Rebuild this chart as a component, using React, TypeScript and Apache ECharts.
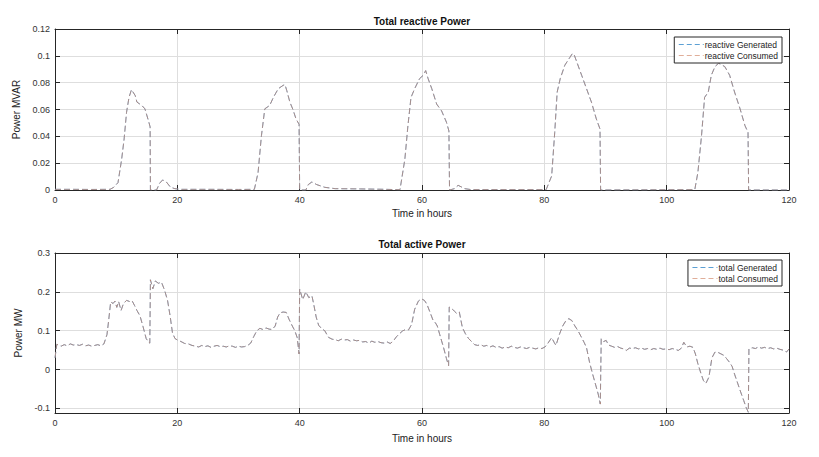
import React, { useEffect, useRef } from "react";
import * as echarts from "echarts";

// ---------- data (hours, value) ----------
const xTicks = [0, 20, 40, 60, 80, 100, 120];

const reactiveGenerated: [number, number][] = [
  [0, 0.0005], [3, 0.0005], [6, 0.0004], [9, 0.0005], [9.6, 0.002], [10.3, 0.0055],
  [10.9, 0.023], [11.3, 0.038], [11.7, 0.058], [12.1, 0.069], [12.5, 0.0748], [13.1, 0.0705],
  [13.4, 0.0655], [14.2, 0.063], [14.7, 0.0605], [15.35, 0.0505], [15.55, 0.047], [15.6, 0],
  [16.6, 0], [17.1, 0.005], [17.6, 0.0075], [18.2, 0.006], [18.9, 0.002], [19.6, 0.001],
  [20.5, 0.0005], [25, 0.0005], [30, 0.0004], [32.6, 0.0005], [33.2, 0.013], [33.75, 0.0405],
  [34.3, 0.0605], [35.1, 0.063], [35.7, 0.069], [36.5, 0.0755], [37.3, 0.078], [37.6, 0.0785],
  [37.9, 0.074], [38.4, 0.0655], [38.9, 0.06], [39.4, 0.053], [39.9, 0.049], [40.0, 0],
  [41.0, 0], [41.4, 0.004], [42.0, 0.006], [42.8, 0.004], [44.1, 0.002], [45.8, 0.001],
  [50, 0.0008], [54, 0.0005], [56.4, 0.0002], [57.2, 0.023], [57.7, 0.048], [58.2, 0.069],
  [58.8, 0.0755], [59.6, 0.083], [60.2, 0.0855], [60.6, 0.089], [61.0, 0.083], [61.6, 0.0755],
  [62.4, 0.064], [63.2, 0.059], [64.0, 0.0505], [64.4, 0.044], [64.5, 0], [65.3, 0.001],
  [65.9, 0.0035], [67.0, 0.001], [68, 0.0003], [80.3, 0.0003], [81.2, 0.0105], [81.7, 0.043],
  [82.1, 0.073], [82.6, 0.083], [83.35, 0.093], [84.2, 0.099], [84.6, 0.1018], [84.9, 0.1005],
  [85.3, 0.0955], [86.1, 0.0855], [86.9, 0.0755], [87.7, 0.0655], [88.5, 0.053], [89.1, 0.0455],
  [89.2, 0], [104.6, 0.0003], [105.1, 0.013], [105.7, 0.0405], [106.2, 0.069], [106.8, 0.073],
  [107.3, 0.0855], [107.9, 0.092], [108.5, 0.0945], [109.5, 0.092], [110.3, 0.0855], [111.1, 0.073],
  [112.0, 0.0605], [112.8, 0.048], [113.3, 0.043], [113.4, 0], [120, 0],
];
// the consumed curve lies exactly on the generated one in the picture
const reactiveConsumed: [number, number][] = reactiveGenerated;

const activeGenerated: [number, number][] = [
  [0, 0.03], [0.3, 0.065], [1, 0.06], [1.5, 0.064], [2, 0.061], [2.5, 0.066], [3, 0.063],
  [3.5, 0.064], [4, 0.062], [4.5, 0.065], [5, 0.061], [5.5, 0.063], [6, 0.06], [6.5, 0.062],
  [7, 0.064], [7.5, 0.061], [8, 0.066], [8.5, 0.09], [8.8, 0.13], [9.1, 0.174], [9.5, 0.17],
  [9.8, 0.176], [10.1, 0.16], [10.4, 0.175], [10.8, 0.152], [11.2, 0.17], [11.7, 0.178],
  [12.2, 0.175], [12.6, 0.177], [13.0, 0.165], [13.4, 0.152], [13.9, 0.138], [14.4, 0.11],
  [14.9, 0.08], [15.3, 0.07], [15.5, 0.068], [15.6, 0.231], [16.0, 0.208], [16.4, 0.228],
  [16.9, 0.222], [17.4, 0.225], [17.9, 0.205], [18.4, 0.178], [18.8, 0.14], [19.2, 0.095],
  [19.6, 0.08], [20.1, 0.075], [20.6, 0.072], [21.2, 0.067], [21.8, 0.066], [22.4, 0.062],
  [23.0, 0.06], [23.5, 0.058], [24.0, 0.062], [24.5, 0.059], [25.0, 0.061], [25.5, 0.057],
  [26.0, 0.06], [26.5, 0.062], [27.0, 0.059], [27.5, 0.06], [28.0, 0.058], [28.5, 0.061],
  [29.0, 0.06], [29.5, 0.057], [30.0, 0.06], [30.5, 0.058], [31.0, 0.059], [31.5, 0.062],
  [32.0, 0.068], [32.5, 0.085], [33.0, 0.1], [33.5, 0.106], [34.0, 0.103], [34.5, 0.107],
  [35.0, 0.104], [35.5, 0.103], [36.0, 0.112], [36.4, 0.135], [36.8, 0.146], [37.3, 0.148],
  [37.8, 0.147], [38.3, 0.128], [38.8, 0.112], [39.2, 0.1], [39.6, 0.082], [39.9, 0.04],
  [40.0, 0.207], [40.5, 0.18], [41.0, 0.2], [41.5, 0.185], [42.0, 0.19], [42.3, 0.168],
  [42.7, 0.135], [43.1, 0.114], [43.6, 0.105], [44.1, 0.1], [44.7, 0.083], [45.3, 0.078],
  [45.8, 0.077], [46.3, 0.074], [46.8, 0.078], [47.3, 0.076], [47.8, 0.077], [48.3, 0.073],
  [48.8, 0.076], [49.3, 0.074], [49.8, 0.075], [50.3, 0.071], [50.8, 0.072], [51.3, 0.068],
  [51.8, 0.073], [52.3, 0.07], [52.8, 0.072], [53.3, 0.069], [53.8, 0.068], [54.3, 0.071],
  [54.8, 0.067], [55.3, 0.073], [55.8, 0.084], [56.3, 0.092], [56.8, 0.099], [57.3, 0.103],
  [57.8, 0.102], [58.3, 0.116], [58.8, 0.155], [59.4, 0.176], [59.9, 0.182], [60.4, 0.178],
  [60.8, 0.168], [61.3, 0.148], [61.8, 0.127], [62.2, 0.12], [62.5, 0.112], [62.9, 0.09],
  [63.5, 0.058], [64.0, 0.028], [64.35, 0.01], [64.45, 0.161], [65.0, 0.155], [65.3, 0.15],
  [65.7, 0.144], [66.1, 0.148], [66.6, 0.108], [67.1, 0.092], [67.6, 0.08], [68.1, 0.072],
  [68.6, 0.064], [69.1, 0.062], [69.6, 0.064], [70.1, 0.06], [70.6, 0.062], [71.1, 0.058],
  [71.6, 0.061], [72.1, 0.057], [72.6, 0.059], [73.1, 0.055], [73.6, 0.058], [74.1, 0.056],
  [74.6, 0.06], [75.1, 0.057], [75.6, 0.055], [76.1, 0.058], [76.6, 0.056], [77.1, 0.054],
  [77.6, 0.057], [78.1, 0.055], [78.6, 0.053], [79.1, 0.056], [79.6, 0.054], [80.1, 0.058],
  [80.6, 0.068], [81.2, 0.082], [81.6, 0.07], [81.9, 0.062], [82.5, 0.092], [83.0, 0.112],
  [83.5, 0.125], [84.0, 0.131], [84.5, 0.126], [85.0, 0.112], [85.5, 0.1], [86.0, 0.085],
  [86.5, 0.07], [86.9, 0.056], [87.4, 0.018], [87.9, -0.012], [88.4, -0.04], [88.8, -0.063],
  [89.15, -0.089], [89.3, 0.079], [89.7, 0.072], [90.1, 0.075], [90.5, 0.063], [91.0, 0.06],
  [91.5, 0.057], [92.0, 0.059], [92.5, 0.055], [93.0, 0.053], [93.4, 0.049], [93.9, 0.055],
  [94.4, 0.054], [94.9, 0.056], [95.4, 0.053], [95.9, 0.055], [96.4, 0.052], [96.9, 0.054],
  [97.4, 0.051], [97.9, 0.054], [98.4, 0.052], [98.9, 0.055], [99.4, 0.052], [99.9, 0.053],
  [100.4, 0.051], [100.9, 0.054], [101.4, 0.052], [101.9, 0.049], [102.4, 0.055], [102.8, 0.07],
  [103.3, 0.058], [103.8, 0.06], [104.3, 0.057], [104.7, 0.04], [105.1, 0.015], [105.6, -0.01],
  [106.0, -0.028], [106.4, -0.036], [106.9, -0.02], [107.4, 0.03], [107.9, 0.045], [108.4, 0.044],
  [108.9, 0.04], [109.4, 0.036], [109.8, 0.028], [110.3, 0.018], [110.7, 0.008], [111.1, -0.012],
  [111.6, -0.035], [112.1, -0.058], [112.6, -0.08], [113.0, -0.098], [113.35, -0.11],
  [113.45, 0.053], [114.0, 0.056], [114.5, 0.054], [115.0, 0.058], [115.5, 0.055], [116.0, 0.057],
  [116.5, 0.054], [117.0, 0.056], [117.5, 0.053], [118.0, 0.055], [118.5, 0.052], [119.0, 0.05],
  [119.6, 0.045], [120, 0.053],
];
// the consumed curve lies exactly on the generated one in the picture
const activeConsumed: [number, number][] = activeGenerated;

const reactiveNames = ["reactive Generated", "reactive Consumed"];
const activeNames = ["total Generated", "total Consumed"];

// ---------- styling ----------
const FONT = "'Liberation Sans', Arial, Helvetica, sans-serif";
const AXIS_COLOR = "#262626";
const LABEL_COLOR = "#333333";
const GRID_COLOR = "#dedede";
const BLUE = "#5ca0d4";
const ORANGE = "#cf8263";

function xAxisPair(gridIndex: number, nameGap: number) {
  const base = {
    type: "value" as const,
    gridIndex,
    min: xTicks[0],
    max: xTicks[xTicks.length - 1],
    interval: 20,
    axisLine: { show: true, onZero: false, lineStyle: { color: AXIS_COLOR, width: 1 } },
    axisTick: { show: true, inside: true, length: 5, lineStyle: { color: AXIS_COLOR } },
  };
  return [
    {
      ...base,
      position: "bottom",
      name: "Time in hours",
      nameLocation: "middle",
      nameGap,
      nameTextStyle: { fontFamily: FONT, fontSize: 10, color: "#222" },
      axisLabel: { show: true, fontFamily: FONT, fontSize: 9, color: LABEL_COLOR, margin: 5 },
      splitLine: { show: true, lineStyle: { color: GRID_COLOR, width: 1 } },
    },
    {
      ...base,
      position: "top",
      axisLabel: { show: false },
      splitLine: { show: false },
    },
  ];
}

function yAxisPair(
  gridIndex: number,
  name: string,
  min: number,
  max: number,
  extra: Record<string, unknown>,
  formatter?: (v: number) => string
) {
  const base = {
    type: "value" as const,
    gridIndex,
    min,
    max,
    ...extra,
    axisLine: { show: true, onZero: false, lineStyle: { color: AXIS_COLOR, width: 1 } },
    axisTick: { show: true, inside: true, length: 5, lineStyle: { color: AXIS_COLOR } },
  };
  return [
    {
      ...base,
      position: "left",
      name,
      nameLocation: "middle",
      nameGap: 24,
      nameTextStyle: { fontFamily: FONT, fontSize: 10, color: "#222" },
      axisLabel: {
        show: true,
        fontFamily: FONT,
        fontSize: 9,
        color: LABEL_COLOR,
        margin: 5,
        ...(formatter ? { formatter } : {}),
      },
      splitLine: { show: true, lineStyle: { color: GRID_COLOR, width: 1 } },
    },
    {
      ...base,
      position: "right",
      axisLabel: { show: false },
      splitLine: { show: false },
    },
  ];
}

function lineSeries(name: string, data: [number, number][], axisIdx: number, color: string, opacity: number, z: number) {
  return {
    type: "line" as const,
    name,
    data,
    xAxisIndex: axisIdx,
    yAxisIndex: axisIdx,
    symbol: "none",
    showSymbol: false,
    z,
    lineStyle: { color, width: 1, type: [6, 3], opacity },
    itemStyle: { color },
  };
}

function legendOf(names: string[], top: number) {
  return {
    data: names,
    orient: "vertical",
    right: 37,
    top,
    padding: [3, 4, 3, 4],
    itemWidth: 25,
    itemHeight: 9,
    itemGap: 2,
    selectedMode: false,
    backgroundColor: "#ffffff",
    borderColor: AXIS_COLOR,
    borderWidth: 1,
    borderRadius: 0,
    itemStyle: { color: "rgba(0,0,0,0)", borderWidth: 0, opacity: 0 },
    lineStyle: { width: 1, type: [5, 3] },
    textStyle: { fontFamily: FONT, fontSize: 8.5, color: "#222", padding: [0, 0, 0, -4] },
  };
}

export default function App() {
  const ref = useRef<HTMLDivElement>(null);

  useEffect(() => {
    if (!ref.current) return;
    const chart = echarts.init(ref.current, undefined, { renderer: "svg" });

    const bottomFormatter = (v: number) => {
      const r = Math.round(v * 10);
      if (Math.abs(v * 10 - r) > 1e-6) return "";
      return String(r / 10);
    };

    const [xb0, xt0] = xAxisPair(0, 18);
    const [xb1, xt1] = xAxisPair(1, 20);
    const [yl0, yr0] = yAxisPair(0, "Power MVAR", 0, 0.12, { interval: 0.02 });
    const [yl1, yr1] = yAxisPair(1, "Power MW", -0.112, 0.3, { splitNumber: 4 }, bottomFormatter);

    chart.setOption({
      animation: false,
      backgroundColor: "#ffffff",
      grid: [
        { left: 55, top: 29, width: 734, height: 161, containLabel: false },
        { left: 55, top: 253, width: 734, height: 160, containLabel: false },
      ],
      xAxis: [xb0, xb1, xt0, xt1],
      yAxis: [yl0, yl1, yr0, yr1],
      legend: [legendOf(reactiveNames, 37), legendOf(activeNames, 260)],
      graphic: [
        {
          type: "text",
          x: 422,
          y: 21,
          style: {
            text: "Total reactive Power",
            align: "center",
            verticalAlign: "middle",
            font: `bold 10px ${FONT}`,
            fill: "#111",
          },
        },
        {
          type: "text",
          x: 422,
          y: 244,
          style: {
            text: "Total active Power",
            align: "center",
            verticalAlign: "middle",
            font: `bold 10px ${FONT}`,
            fill: "#111",
          },
        },
      ],
      series: [
        lineSeries(reactiveNames[0], reactiveGenerated, 0, BLUE, 1, 2),
        lineSeries(reactiveNames[1], reactiveConsumed, 0, ORANGE, 0.65, 3),
        lineSeries(activeNames[0], activeGenerated, 1, BLUE, 1, 2),
        lineSeries(activeNames[1], activeConsumed, 1, ORANGE, 0.65, 3),
      ],
    });

    return () => {
      chart.dispose();
    };
  }, []);

  return (
    <div
      ref={ref}
      style={{ position: "fixed", left: 0, top: 0, width: 819, height: 457, background: "#fff" }}
    />
  );
}
